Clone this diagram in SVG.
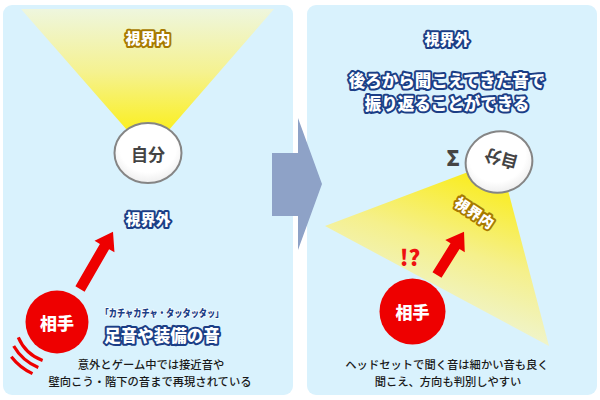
<svg xmlns="http://www.w3.org/2000/svg" width="600" height="400" viewBox="0 0 600 400">
<defs>
<linearGradient id="coneL" gradientUnits="userSpaceOnUse" x1="0" y1="9" x2="0" y2="135">
<stop offset="0" stop-color="#EEF6DE"/><stop offset="0.5" stop-color="#F5F290"/><stop offset="1" stop-color="#FBEF18"/>
</linearGradient>
<linearGradient id="coneR" gradientUnits="userSpaceOnUse" x1="492" y1="175" x2="440" y2="330">
<stop offset="0" stop-color="#FAEC18"/><stop offset="0.5" stop-color="#F5F08C"/><stop offset="1" stop-color="#EEF5DC"/>
</linearGradient>
<radialGradient id="selfFill" cx="0.5" cy="0.4" r="0.6">
<stop offset="0.7" stop-color="#FFFFFF"/><stop offset="1" stop-color="#EEEEEE"/>
</radialGradient>
<style>
text{font-family:"Noto Sans CJK JP","Noto Sans",sans-serif;font-weight:900;text-anchor:middle;dominant-baseline:central}
.panel{fill:#D9F2FD}
.outB{fill:#fff;stroke:#1B3E86;stroke-width:4;stroke-linejoin:round;paint-order:stroke}
.outY{fill:#fff;stroke:#A77A00;stroke-width:4;stroke-linejoin:round;paint-order:stroke}
.self{fill:url(#selfFill);stroke:#858585;stroke-width:2}
.selfT{fill:#444;font-size:17px;font-weight:bold}
.foe{fill:#EE0000}
.foeT{fill:#fff;font-size:17px}
.body{fill:#1A1A1A;font-weight:500;font-size:11.3px}
.red{fill:#EE0000}
.wave{fill:none;stroke:#EE0000;stroke-width:3.2;stroke-linecap:butt}
</style>
</defs>
<rect width="600" height="400" fill="#fff"/>
<g id="panel-left">
<rect class="panel" x="3" y="5" width="290" height="390" rx="9"/>
<polygon points="21,9 274,9 148,154" fill="url(#coneL)"/>
<text class="outY" x="148" y="37" font-size="15">視界内</text>
<text class="outB" x="148" y="218" font-size="15">視界外</text>
<text x="162" y="312.5" font-size="10" font-weight="bold" fill="#1B3E86" stroke="#fff" stroke-width="1.5" paint-order="stroke" textLength="123" lengthAdjust="spacingAndGlyphs">「カチャカチャ・タッタッタッ」</text>
<text class="outB" x="162" y="334.5" font-size="16.5">足音や装備の音</text>
<text class="body" x="151" y="364">意外とゲーム中では接近音や</text>
<text class="body" x="150" y="381">壁向こう・階下の音まで再現されている</text>
</g>
<g id="panel-right">
<rect class="panel" x="307" y="5" width="290" height="390" rx="9"/>
<polygon points="500,160 325,226 549,346" fill="url(#coneR)"/>
<text class="outB" x="447" y="38" font-size="15">視界外</text>
<text class="outB" x="447" y="80" font-size="16.5">後ろから聞こえてきた音で</text>
<text class="outB" x="447" y="103" font-size="16.5">振り返ることができる</text>
<text class="outY" x="475" y="212" font-size="14.5" transform="rotate(33 475 212)">視界内</text>
<text x="410" y="256" font-size="22" fill="#EE1111" font-family="Liberation Sans, sans-serif" font-weight="bold">!?</text>
<text class="body" x="447" y="364">ヘッドセットで聞く音は細かい音も良く</text>
<text class="body" x="448" y="381">聞こえ、方向も判別しやすい</text>
</g>
<g id="self-left">
<ellipse class="self" cx="148" cy="153" rx="33.5" ry="30"/>
<text class="selfT" x="148" y="153">自分</text>
</g>
<g id="foe-left">
<g id="waves">
<path class="wave" d="M18.3 337.4 A42 42 0 0 0 42.6 360.5"/>
<path class="wave" d="M13.7 346 A50 50 0 0 0 38.3 367.4"/>
<path class="wave" d="M11.3 356.7 A58 58 0 0 0 32.5 373.6"/>
</g>
<circle class="foe" cx="57" cy="322" r="31.5"/>
<text class="foeT" x="57" y="322">相手</text>
</g>
<g id="self-right">
<ellipse class="self" cx="499" cy="162" rx="33.5" ry="30.5" transform="rotate(-15 499 162)"/>
<text class="selfT" x="501" y="160" transform="rotate(195 501 160)">自分</text>
<text x="453" y="157" font-size="21" fill="#444" font-family="DejaVu Sans, sans-serif" font-weight="bold">Σ</text>
</g>
<g id="foe-right">
<circle class="foe" cx="412.5" cy="311.5" r="33"/>
<text class="foeT" x="412.5" y="311.5">相手</text>
</g>
<g id="connectors">
<polygon fill="#8EA2C7" points="272,153 298,153 298,118 322,184 298,250 298,216 272,216"/>
<polygon class="red" transform="translate(80 289) rotate(-60)" points="0,-5.3 49,-5.3 49,-11.5 66,0 49,11.5 49,5.3 0,5.3"/>
<polygon class="red" transform="translate(437 275) rotate(-58)" points="0,-5.3 34,-5.3 34,-11.5 51,0 34,11.5 34,5.3 0,5.3"/>
</g>
</svg>
